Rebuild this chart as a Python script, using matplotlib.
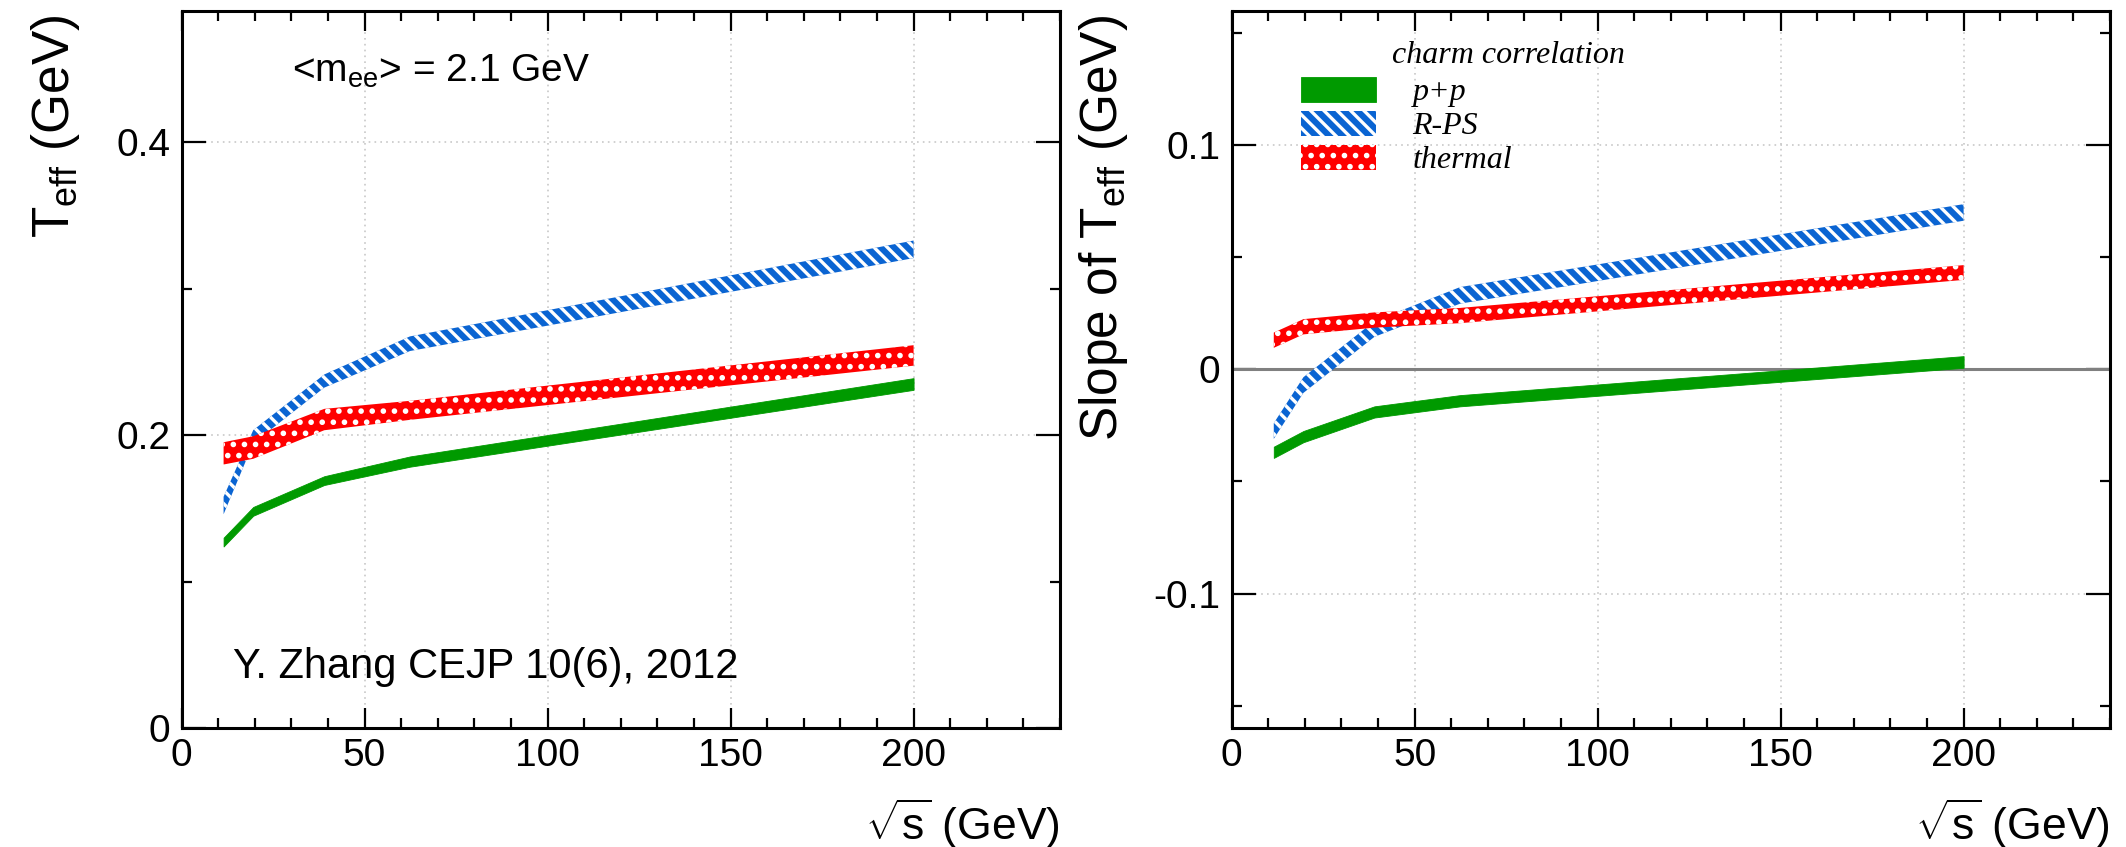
import numpy as np
import matplotlib
matplotlib.use("Agg")
import matplotlib.pyplot as plt
from matplotlib.ticker import MultipleLocator, FormatStrFormatter

plt.rcParams["font.family"] = ["Liberation Sans", "DejaVu Sans"]
plt.rcParams["mathtext.fontset"] = "custom"
plt.rcParams["mathtext.rm"] = "Liberation Sans"
plt.rcParams["mathtext.it"] = "Liberation Sans:italic"
plt.rcParams["mathtext.sf"] = "Liberation Sans"
plt.rcParams["axes.unicode_minus"] = False
plt.rcParams["hatch.linewidth"] = 1.2

# collision energies (GeV)
sqrt_s = [11.5, 19.6, 39.0, 62.4, 200.0]

# effective temperature T_eff (GeV): band centre and half width
teff_pp = [0.127, 0.148, 0.169, 0.182, 0.235]
teff_pp_err = [0.003, 0.003, 0.003, 0.0035, 0.004]
teff_rps = [0.152, 0.199, 0.237, 0.2625, 0.327]
teff_rps_err = [0.006, 0.0045, 0.0045, 0.005, 0.006]
teff_th = [0.1876, 0.1916, 0.2107, 0.217, 0.2545]
teff_th_err = [0.0076, 0.0077, 0.0073, 0.0065, 0.007]

# slope of T_eff (GeV)
slope_pp = [-0.037, -0.030, -0.019, -0.014, 0.0033]
slope_pp_err = [0.0025, 0.0025, 0.0025, 0.0025, 0.0026]
slope_rps = [-0.0275, -0.007, 0.018, 0.033, 0.070]
slope_rps_err = [0.0035, 0.0035, 0.0035, 0.0037, 0.0037]
slope_th = [0.013, 0.019, 0.022, 0.024, 0.0432]
slope_th_err = [0.0034, 0.0034, 0.0034, 0.0034, 0.0033]

labels = ["p+p", "R-PS", "thermal"]
GREEN = "#009a00"
BLUE = "#0a64d2"
RED = "#ff0000"

W, H, DPI = 2126, 847, 200
fig = plt.figure(figsize=(W / DPI, H / DPI), dpi=DPI)
ax1 = fig.add_axes([181.5 / W, 1 - 728 / H, 878.5 / W, 717.3 / H])
ax2 = fig.add_axes([1231.7 / W, 1 - 728 / H, 878.3 / W, 717.3 / H])


def band(ax, y, err, color, hatch=None):
    y = np.asarray(y)
    err = np.asarray(err)
    if hatch is None:
        return ax.fill_between(sqrt_s, y - err, y + err, facecolor=color,
                               edgecolor=color, linewidth=0.3, zorder=3)
    return ax.fill_between(sqrt_s, y - err, y + err, facecolor=color,
                           edgecolor="white", linewidth=0, hatch=hatch, zorder=3)


def style(ax, ymajor, yminor, fmt):
    ax.set_xlim(0, 240)
    ax.xaxis.set_major_locator(MultipleLocator(50))
    ax.xaxis.set_minor_locator(MultipleLocator(10))
    ax.yaxis.set_major_locator(MultipleLocator(ymajor))
    ax.yaxis.set_minor_locator(MultipleLocator(yminor))
    ax.yaxis.set_major_formatter(FormatStrFormatter(fmt))
    ax.tick_params(which="both", direction="in", top=True, right=True,
                   width=0.8, labelsize=14)
    ax.tick_params(axis="x", which="major", length=7.2, pad=3.5)
    ax.tick_params(axis="x", which="minor", length=3.6)
    ax.tick_params(axis="y", which="major", length=8.6, pad=4)
    ax.tick_params(axis="y", which="minor", length=3.6)
    for sp in ax.spines.values():
        sp.set_linewidth(1.1)
    ax.grid(True, which="major", color="#c8c8c8", linestyle=(0, (1, 2.5)),
            linewidth=0.6, zorder=0)
    ax.set_axisbelow(True)
    ax.set_xlabel(r"$\sqrt{\mathrm{s}}$ (GeV)", fontsize=16, loc="right")
    ax.xaxis.set_label_coords(1.0, -0.095)


# ---- left: T_eff
band(ax1, teff_pp, teff_pp_err, GREEN)
band(ax1, teff_rps, teff_rps_err, BLUE, hatch="\\\\\\\\\\")
band(ax1, teff_th, teff_th_err, RED, hatch="...")
ax1.set_ylim(0, 0.49)
style(ax1, 0.2, 0.1, "%g")
ax1.set_ylabel(r"T$_{\mathrm{eff}}$ (GeV)", fontsize=18.5, loc="top")
ax1.yaxis.set_label_coords(-0.113, 0.994)
ax1.text(0.1254, 0.901, r"<m$_{\mathrm{ee}}$> = 2.1 GeV", fontsize=14,
         transform=ax1.transAxes, va="baseline", ha="left")
ax1.text(0.0586, 0.085, "Y. Zhang CEJP 10(6), 2012", fontsize=15,
         transform=ax1.transAxes, va="center", ha="left")

# ---- right: slope of T_eff
ax2.axhline(0, color="#808080", linewidth=1.1, zorder=2)
h_pp = band(ax2, slope_pp, slope_pp_err, GREEN)
h_rps = band(ax2, slope_rps, slope_rps_err, BLUE, hatch="\\\\\\\\\\")
h_th = band(ax2, slope_th, slope_th_err, RED, hatch="...")
ax2.set_ylim(-0.16, 0.16)
style(ax2, 0.1, 0.05, "%g")
ax2.set_ylabel(r"Slope of T$_{\mathrm{eff}}$ (GeV)", fontsize=18.5, loc="top")
ax2.yaxis.set_label_coords(-0.1158, 0.994)

ax2.legend([h_pp, h_rps, h_th], labels, loc="upper left",
           bbox_to_anchor=(0.0786, 0.908), frameon=False,
           prop=dict(family="Liberation Serif", style="italic", size=11.5),
           handlelength=2.35, handleheight=0.85, handletextpad=1.15,
           labelspacing=0.1, borderaxespad=0, borderpad=0)
ax2.text(0.182, 0.9275, "charm correlation", transform=ax2.transAxes,
         family="Liberation Serif", style="italic", fontsize=11.5,
         va="baseline", ha="left")

fig.savefig("out.png", dpi=DPI)
